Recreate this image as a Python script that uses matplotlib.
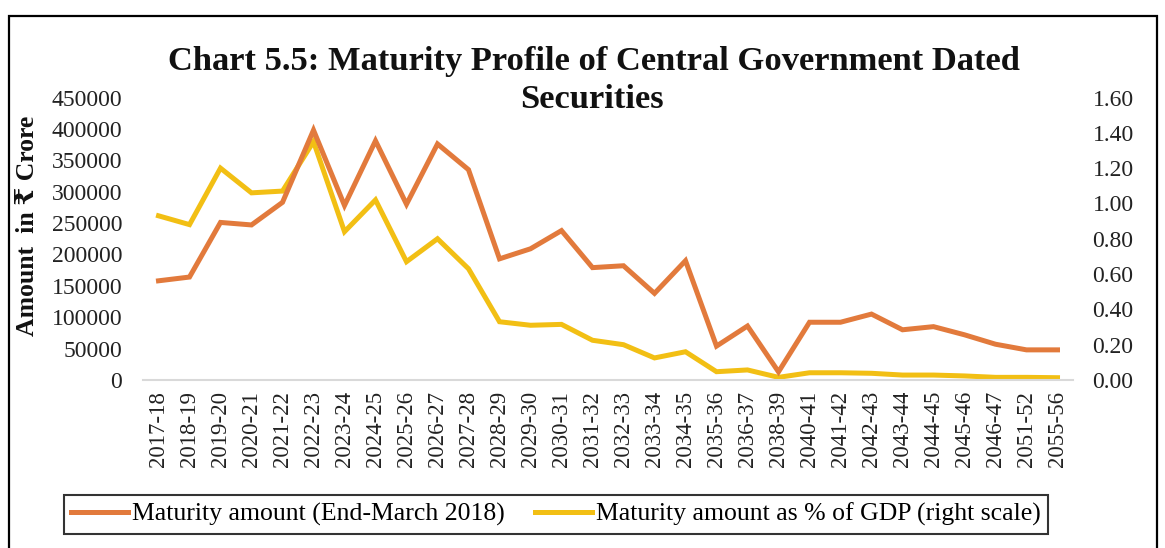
import matplotlib
matplotlib.use("Agg")
import matplotlib.pyplot as plt
from matplotlib.patches import Rectangle

years = ["2017-18", "2018-19", "2019-20", "2020-21", "2021-22", "2022-23", "2023-24",
         "2024-25", "2025-26", "2026-27", "2027-28", "2028-29", "2029-30", "2030-31",
         "2031-32", "2032-33", "2033-34", "2034-35", "2035-36", "2036-37", "2038-39",
         "2040-41", "2041-42", "2042-43", "2043-44", "2044-45", "2045-46", "2046-47",
         "2051-52", "2055-56"]

maturity_amount = [158000, 164000, 251000, 247000, 283000, 398000, 278000, 381000,
                   280000, 376000, 335000, 193000, 209000, 238000, 179000, 182000,
                   138000, 190000, 54000, 86000, 13000, 92000, 92000, 105000,
                   80000, 85000, 72000, 57000, 48000, 48000]

pct_gdp = [0.93, 0.88, 1.20, 1.06, 1.07, 1.35, 0.84, 1.02, 0.67, 0.80, 0.63, 0.33,
           0.31, 0.315, 0.225, 0.20, 0.125, 0.16, 0.047, 0.057, 0.015, 0.041, 0.041,
           0.038, 0.028, 0.028, 0.023, 0.015, 0.015, 0.013]

left_ticks = [0, 50000, 100000, 150000, 200000, 250000, 300000, 350000, 400000, 450000]
right_ticks = [0.0, 0.2, 0.4, 0.6, 0.8, 1.0, 1.2, 1.4, 1.6]

ORANGE = "#E27A3C"
YELLOW = "#F2BF14"
SERIF = ["Liberation Serif", "DejaVu Serif"]
plt.rcParams["font.family"] = SERIF

W, H = 1165, 548
fig = plt.figure(figsize=(W / 100, H / 100), dpi=100)

x0, x1 = 143, 1073
ytop, ybot = 97.5, 380
ax = fig.add_axes([x0 / W, 1 - ybot / H, (x1 - x0) / W, (ybot - ytop) / H])
ax2 = ax.twinx()

xs = list(range(len(years)))
l1, = ax.plot(xs, maturity_amount, color=ORANGE, lw=3.6, solid_joinstyle="miter",
              label="Maturity amount (End-March 2018)", zorder=3)
l2, = ax2.plot(xs, pct_gdp, color=YELLOW, lw=3.6, solid_joinstyle="miter",
               label="Maturity amount as % of GDP (right scale)", zorder=2)
ax.set_zorder(ax2.get_zorder() + 1)
ax.patch.set_visible(False)

ax.set_xlim(-0.5, len(years) - 0.5)
ax.set_ylim(0, 450000)
ax2.set_ylim(0, 1.6)

ax.set_yticks(left_ticks)
ax.set_yticklabels([str(v) for v in left_ticks])
ax2.set_yticks(right_ticks)
ax2.set_yticklabels([f"{v:.2f}" for v in right_ticks])
ax.set_xticks(xs)
ax.set_xticklabels(years, rotation=90)

for a in (ax, ax2):
    for s in a.spines.values():
        s.set_visible(False)
    a.tick_params(length=0, labelsize=17, colors="#222222")
ax.spines["bottom"].set_visible(True)
ax.spines["bottom"].set_color("#D9D9D9")
ax.spines["bottom"].set_linewidth(1.5)
ax.tick_params(axis="y", pad=15)
ax2.tick_params(axis="y", pad=14)
ax.tick_params(axis="x", labelsize=16.5, pad=8)

fig.text(593.5 / W, 1 - 61 / H, "Chart 5.5: Maturity Profile of Central Government Dated",
         ha="center", va="center", fontsize=24.8, fontweight="bold", color="#111111")
fig.text(592 / W, 1 - 100 / H, "Securities",
         ha="center", va="center", fontsize=24.8, fontweight="bold", color="#111111")

fig.text(28 / W, 1 - 226 / H, "Amount  in \u20b9 Crore", rotation=90,
         ha="center", va="center", fontsize=18.5, fontweight="bold", color="#111111")

leg = fig.legend(handles=[l1, l2], loc="center", ncol=2,
                 bbox_to_anchor=(556 / W, 1 - 514.5 / H),
                 fontsize=18.5, handlelength=2.2, handletextpad=0.15,
                 columnspacing=1.2, borderpad=0.3, borderaxespad=0,
                 fancybox=False, frameon=True, edgecolor="black")
leg.get_frame().set_linewidth(1.5)

border = Rectangle((9 / W, -0.05), (1157 - 9) / W, 1.05 - 16 / H,
                   transform=fig.transFigure, fill=False, edgecolor="black",
                   linewidth=1.6, clip_on=False)
fig.patches.append(border)

fig.savefig("out.png", dpi=100)
